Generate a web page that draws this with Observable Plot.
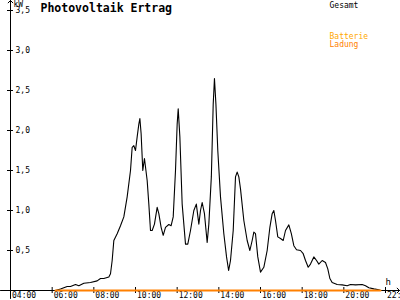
<!DOCTYPE html>
<html>
<head>
<meta charset="utf-8">
<script src="https://cdn.jsdelivr.net/npm/d3@7"></script>
<script src="https://cdn.jsdelivr.net/npm/@observablehq/plot@0.6"></script>
<style>
  html, body { margin: 0; padding: 0; background: #fff; }
  svg { display: block; }
</style>
</head>
<body>
<div id="chart"></div>
<script>
// ---- data ----
const title = "Photovoltaik Ertrag";
const yUnit = "kW";
const xUnit = "h";
const seriesNames = ["Gesamt", "Batterie", "Ladung"];

const hours = [6.16, 6.40, 6.72, 6.88, 7.12, 7.28, 7.52, 7.84, 8.16, 8.32, 8.48, 8.72, 8.80, 8.88, 8.96,
  9.12, 9.28, 9.44, 9.60, 9.76, 9.84, 9.92, 10.00, 10.08, 10.16, 10.21, 10.27, 10.35, 10.43, 10.56,
  10.64, 10.72, 10.80, 10.91, 11.04, 11.12, 11.23, 11.33, 11.44, 11.60, 11.71, 11.81, 11.92, 12.00,
  12.05, 12.13, 12.24, 12.40, 12.51, 12.64, 12.80, 12.92, 13.04, 13.12, 13.20, 13.31, 13.44, 13.52,
  13.64, 13.73, 13.79, 13.86, 13.95, 14.08, 14.24, 14.37, 14.47, 14.56, 14.69, 14.80, 14.88, 14.96,
  15.04, 15.20, 15.36, 15.49, 15.60, 15.68, 15.76, 15.87, 16.00, 16.16, 16.32, 16.45, 16.56, 16.64,
  16.72, 16.83, 16.96, 17.09, 17.20, 17.36, 17.48, 17.60, 17.73, 17.92, 18.05, 18.16, 18.29, 18.40,
  18.56, 18.69, 18.80, 18.96, 19.12, 19.23, 19.33, 19.44, 19.68, 19.92, 20.16, 20.32, 20.56, 20.88,
  21.04, 21.20, 21.44, 21.68, 21.76];
const gesamtKW = [0.00, 0.02, 0.05, 0.05, 0.075, 0.06, 0.09, 0.10, 0.12, 0.15, 0.15, 0.17, 0.21, 0.375, 0.625,
  0.71, 0.81, 0.92, 1.17, 1.50, 1.79, 1.81, 1.75, 1.92, 2.08, 2.15, 1.96, 1.50, 1.65, 1.375,
  1.08, 0.75, 0.75, 0.83, 1.04, 0.96, 0.79, 0.69, 0.79, 0.825, 0.81, 0.92, 1.50, 2.08,
  2.27, 1.92, 1.08, 0.58, 0.58, 0.75, 1.00, 1.08, 0.83, 1.00, 1.10, 0.96, 0.60, 0.83,
  1.42, 2.33, 2.65, 2.33, 1.75, 1.17, 0.71, 0.42, 0.25, 0.375, 0.75, 1.42, 1.48, 1.42,
  1.27, 0.875, 0.625, 0.50, 0.625, 0.73, 0.71, 0.42, 0.23, 0.29, 0.50, 0.79, 0.96, 1.00,
  0.875, 0.67, 0.65, 0.625, 0.75, 0.82, 0.71, 0.56, 0.51, 0.50, 0.46, 0.375, 0.29, 0.33,
  0.42, 0.375, 0.33, 0.375, 0.35, 0.27, 0.15, 0.10, 0.075, 0.07, 0.06, 0.075, 0.07, 0.075,
  0.06, 0.035, 0.02, 0.01, 0.00];
const batterieHours = [6.16, 21.76];
const batterieKW = [0, 0];

const xTicks = [4, 6, 8, 10, 12, 14, 16, 18, 20, 22];
const xTickLabels = ["04:00", "06:00", "08:00", "10:00", "12:00", "14:00", "16:00", "18:00", "20:00", "22:00"];
const yTicks = [0.5, 1.0, 1.5, 2.0, 2.5, 3.0, 3.5];
const yTickLabels = ["0,5", "1,0", "1,5", "2,0", "2,5", "3,0", "3,5"];

// ---- build ----
const gesamt = hours.map((h, i) => ({h, v: gesamtKW[i]}));
const batterie = batterieHours.map((h, i) => ({h, v: batterieKW[i]}));
const xTickData = xTicks.map((t, i) => ({t, label: xTickLabels[i]}));
const yTickData = yTicks.map((t, i) => ({t, label: yTickLabels[i]}));

const font = "DejaVu Sans Mono";
const pxPerHour = 375 / 18;
const pxPerKW = 280 / 3.5;

const chart = Plot.plot({
  width: 400,
  height: 300,
  marginLeft: 10,
  marginRight: 15,
  marginTop: 10,
  marginBottom: 10,
  style: {fontFamily: font, background: "#fff", overflow: "visible"},
  x: {domain: [4, 22], axis: null},
  y: {domain: [0, 3.5], axis: null},
  marks: [
    // y axis with arrow
    Plot.arrow([0], {x1: () => 4, x2: () => 4, y1: () => -8 / pxPerKW, y2: () => 3.5 + 10 / pxPerKW,
      stroke: "#000", strokeWidth: 1, headLength: 5, headAngle: 90}),
    // x axis with arrow
    Plot.arrow([0], {x1: () => 4 - 10 / pxPerHour, x2: () => 4 + 389 / pxPerHour, y1: () => 0, y2: () => 0,
      stroke: "#000", strokeWidth: 1, headLength: 5, headAngle: 90}),
    // y ticks
    Plot.ruleY(yTickData, {y: "t", x1: () => 4 - 3 / pxPerHour, x2: () => 4 + 3 / pxPerHour, stroke: "#000"}),
    Plot.text(yTickData, {x: () => 4, y: "t", text: "label", dx: 5, textAnchor: "start", lineAnchor: "middle",
      fontSize: 8, fill: "#000"}),
    // x ticks
    Plot.ruleX(xTickData, {x: "t", y1: () => -3 / pxPerKW, y2: () => 3 / pxPerKW, stroke: "#000"}),
    Plot.text(xTickData, {x: "t", y: () => 0, text: "label", dx: 1.5, dy: 2, textAnchor: "start", lineAnchor: "top",
      fontSize: 8, fill: "#000"}),
    // unit labels
    Plot.text([yUnit], {frameAnchor: "top-left", dx: 3, dy: -9, textAnchor: "start", lineAnchor: "top",
      fontSize: 8, fill: "#000"}),
    Plot.text([xUnit], {x: () => 22, y: () => 0, dx: 0, dy: -12, textAnchor: "start", lineAnchor: "top",
      fontSize: 9, fill: "#000"}),
    // data
    Plot.line(gesamt, {x: "h", y: "v", stroke: "#000", strokeWidth: 1.1, curve: "linear"}),
    Plot.line(batterie, {x: "h", y: "v", stroke: "#ff8000", strokeWidth: 2}),
    // title
    Plot.text([title], {frameAnchor: "top-left", dx: 30, dy: -7, textAnchor: "start", lineAnchor: "top",
      fontSize: 11.5, fontWeight: "bold", fill: "#000"}),
    // legend
    Plot.text([seriesNames[0]], {frameAnchor: "top-left", dx: 319, dy: -8, textAnchor: "start", lineAnchor: "top",
      fontSize: 8, fill: "#000"}),
    Plot.text([seriesNames[1]], {frameAnchor: "top-left", dx: 319, dy: 23, textAnchor: "start", lineAnchor: "top",
      fontSize: 8, fill: "#ffa800"}),
    Plot.text([seriesNames[2]], {frameAnchor: "top-left", dx: 319, dy: 31, textAnchor: "start", lineAnchor: "top",
      fontSize: 8, fill: "#ff8000"})
  ]
});
document.getElementById("chart").appendChild(chart);
</script>
</body>
</html>
